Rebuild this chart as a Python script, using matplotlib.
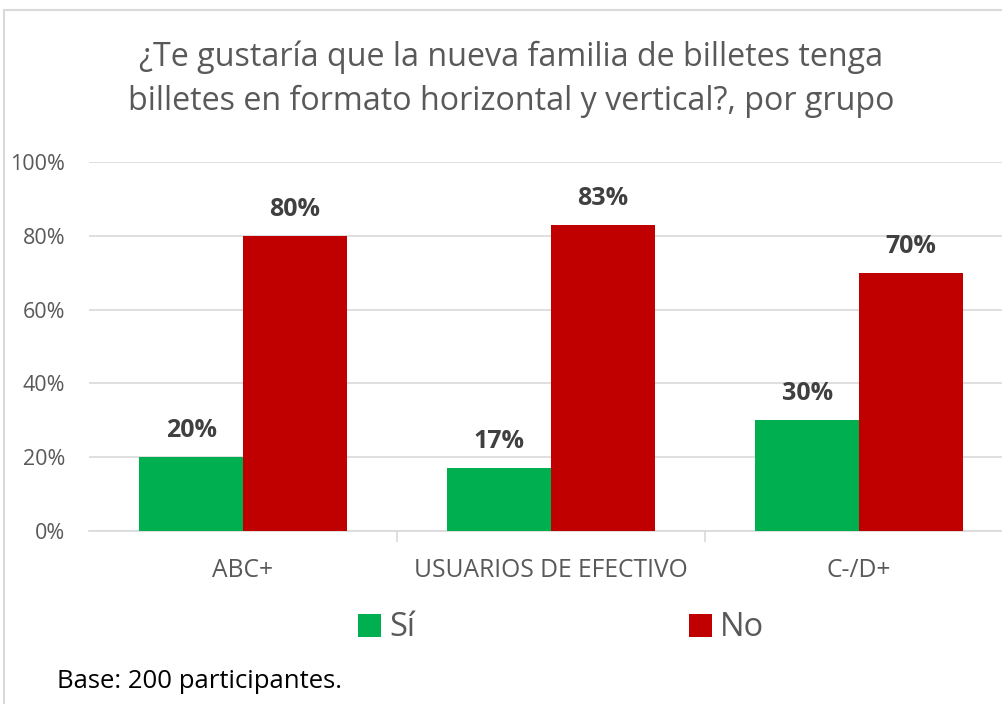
import matplotlib
matplotlib.use("Agg")
import matplotlib.pyplot as plt
import numpy as np
from matplotlib.lines import Line2D

categories = ["ABC+", "USUARIOS DE EFECTIVO", "C-/D+"]
si_values = [20, 17, 30]
no_values = [80, 83, 70]
series_names = ["Sí", "No"]
title = "¿Te gustaría que la nueva familia de billetes tenga\nbilletes en formato horizontal y vertical?, por grupo"
note = "Base: 200 participantes."
yticks = [0, 20, 40, 60, 80, 100]

plt.rcParams['font.family'] = ['Open Sans', 'DejaVu Sans']

W, H = 1003, 704
fig = plt.figure(figsize=(W/100, H/100), dpi=100)
fig.patch.set_facecolor("white")

# frame
fig.add_artist(Line2D([4/W, 4/W], [0, 1 - 10/H], color="#d9d9d9", lw=1.5, transform=fig.transFigure))
fig.add_artist(Line2D([4/W, 1], [1 - 10/H, 1 - 10/H], color="#d9d9d9", lw=1.5, transform=fig.transFigure))

left, right = 89, 1013
y0, y100 = 531, 162
ax = fig.add_axes([left/W, 1 - y0/H, (right-left)/W, (y0-y100)/H])
ax.set_xlim(-0.5, 2.5)
ax.set_ylim(0, 100)

x = np.arange(len(categories))
bw = 0.337
green, red = "#00B050", "#C00000"
b1 = ax.bar(x - bw/2, si_values, bw, color=green, label=series_names[0], zorder=3)
b2 = ax.bar(x + bw/2, no_values, bw, color=red, label=series_names[1], zorder=3)

for bars, vals in ((b1, si_values), (b2, no_values)):
    for rect, v in zip(bars, vals):
        ax.annotate(f"{v}%", (rect.get_x() + rect.get_width()/2, v),
                    xytext=(0, 10), textcoords="offset points", ha="center", va="bottom",
                    fontsize=18, fontweight="bold", color="#404040")

ax.set_yticks(yticks)
ax.set_yticklabels([f"{t}%" for t in yticks], fontsize=15.5, color="#595959")
ax.yaxis.grid(True, color="#d9d9d9", lw=1.2, zorder=0)
ax.tick_params(axis="y", length=0, pad=17)

ax.set_xticks(x)
ax.set_xticklabels(categories, fontsize=17.7, color="#595959")
ax.tick_params(axis="x", length=0, pad=19.5)
ax.set_xticks([0.5, 1.5], minor=True)
ax.tick_params(axis="x", which="minor", length=8, color="#d9d9d9", width=1.2)

for s in ["top", "right", "left"]:
    ax.spines[s].set_visible(False)
ax.spines["bottom"].set_color("#d9d9d9")
ax.spines["bottom"].set_linewidth(1.2)

fig.text(511/W, 1 - 79/H, title, ha="center", va="center", fontsize=23.2,
         color="#595959", linespacing=1.42)

fig.legend(handles=[b1, b2], labels=series_names, loc="center",
           bbox_to_anchor=(561/W, 1 - 628/H), ncol=2, frameon=False,
           fontsize=23.5, labelcolor="#595959", handlelength=0.7, handleheight=0.7,
           handletextpad=0.25, columnspacing=8.4)

fig.text(57/W, 1 - 681/H, note, ha="left", va="center", fontsize=18.5, color="black")

fig.savefig("out.png", dpi=100, facecolor="white")
